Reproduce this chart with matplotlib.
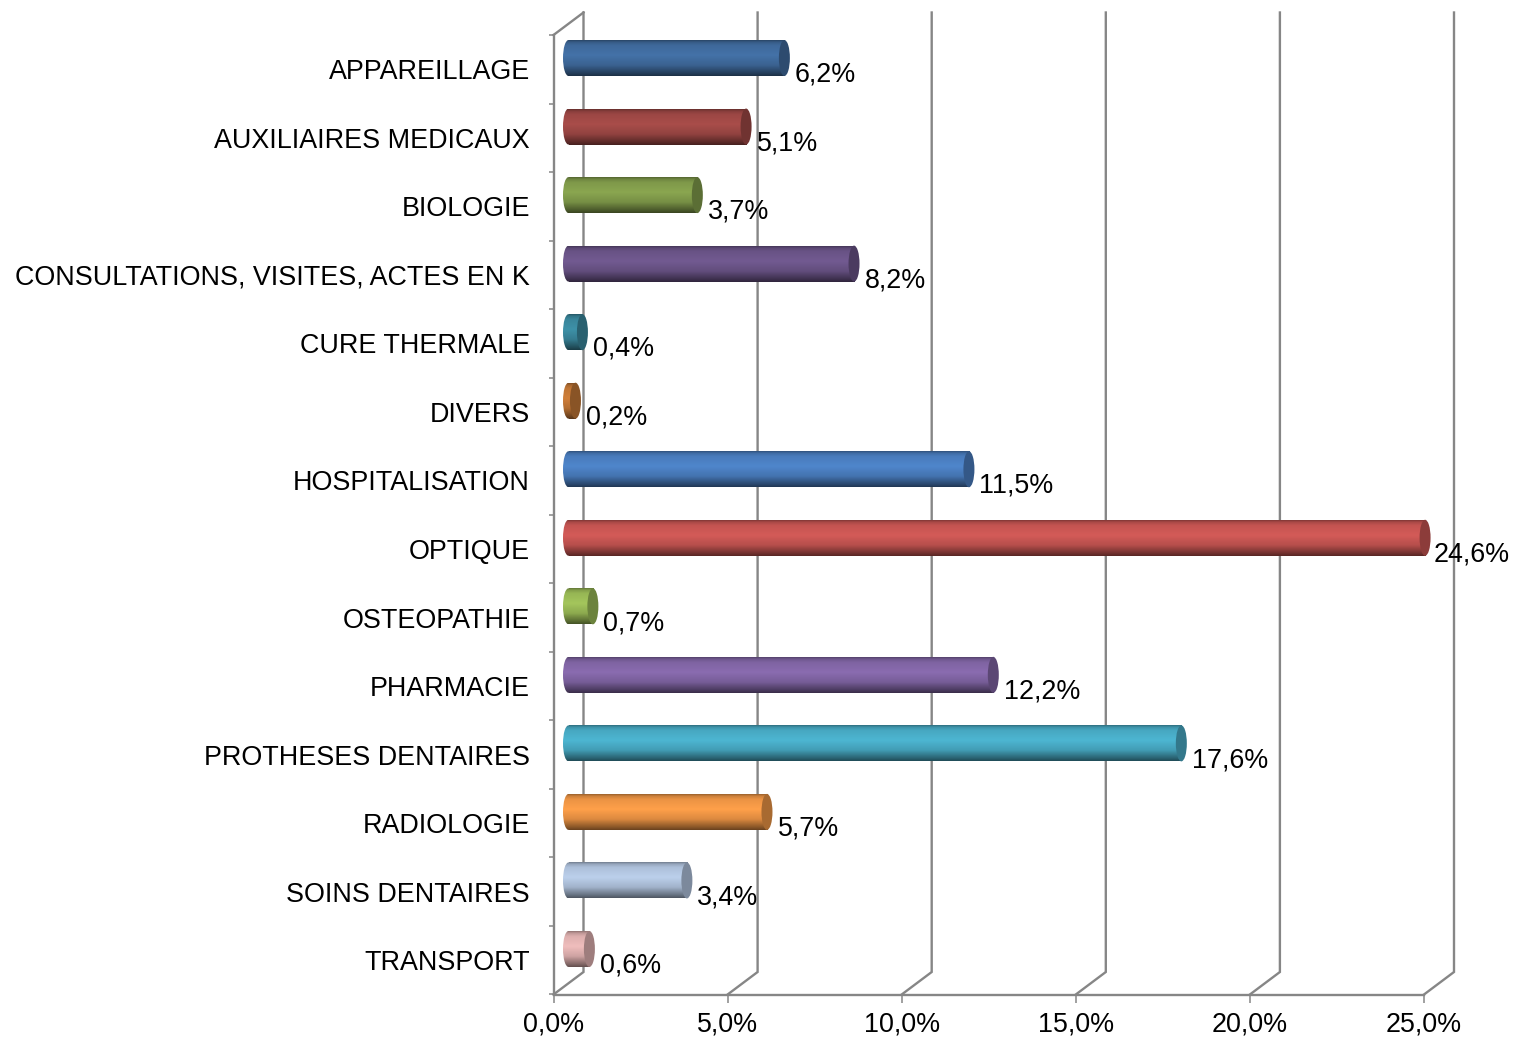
import numpy as np
import matplotlib
matplotlib.use("Agg")
import matplotlib.pyplot as plt
from matplotlib.colors import LinearSegmentedColormap, to_rgb
from matplotlib.patches import Ellipse

categories = ["APPAREILLAGE", "AUXILIAIRES MEDICAUX", "BIOLOGIE",
              "CONSULTATIONS, VISITES, ACTES EN K", "CURE THERMALE", "DIVERS",
              "HOSPITALISATION", "OPTIQUE", "OSTEOPATHIE", "PHARMACIE",
              "PROTHESES DENTAIRES", "RADIOLOGIE", "SOINS DENTAIRES", "TRANSPORT"]
values = [6.2, 5.1, 3.7, 8.2, 0.4, 0.2, 11.5, 24.6, 0.7, 12.2, 17.6, 5.7, 3.4, 0.6]
colors = ["#4472A8", "#A94D4A", "#8AA650", "#725A91", "#3E91A8", "#D07F3A",
          "#4F86CC", "#D45B58", "#A4C65C", "#8A6CB0", "#4DB6D2", "#FFA04A",
          "#BCD0EC", "#F0BEBD"]
xticks = [0, 5, 10, 15, 20, 25]

W, H = 1514, 1038
L, R, T, B = 553.5, 1424.0, 35.0, 994.5
DEPTH_X, DEPTH_Y = 30.0, 22.5
BAR_H, CAP_W = 36.0, 11.0
AXC = "#868686"

plt.rcParams["font.family"] = ["Liberation Sans", "DejaVu Sans"]
fig = plt.figure(figsize=(W / 100, H / 100), dpi=100, facecolor="white")
ax = fig.add_axes([L / W, 1 - B / H, (R - L) / W, (B - T) / H])
n = len(categories)
ax.set_xlim(0, 25)
ax.set_ylim(n, 0)
ux = (R - L) / 25
uy = (B - T) / n
dx, dy = DEPTH_X / ux, DEPTH_Y / uy

for s in ("top", "right"):
    ax.spines[s].set_visible(False)
for s in ("left", "bottom"):
    ax.spines[s].set_color(AXC)
    ax.spines[s].set_linewidth(1.7)

ax.set_yticks(np.arange(n + 1))
ax.set_yticklabels([])
ax.set_yticks(np.arange(n) + 0.5, minor=True)
ax.set_yticklabels(categories, minor=True, fontsize=FS if False else 19.4, color="black")
ax.tick_params(axis="y", which="major", length=3.8, width=1.1, color=AXC)
ax.tick_params(axis="y", which="minor", length=0, pad=17)
ax.set_xticks(xticks)
ax.set_xticklabels([f"{v:.1f}%".replace(".", ",") for v in xticks], fontsize=19.4)
ax.tick_params(axis="x", length=5.4, width=1.1, color=AXC, pad=7)

# walls
for v in xticks:
    ax.plot([v, v + dx, v + dx], [n, n - dy, -dy], color=AXC, lw=1.7,
            clip_on=False, zorder=1, solid_joinstyle="miter")
ax.plot([0, dx], [0, -dy], color=AXC, lw=1.7, clip_on=False, zorder=1)

stops = [0.0, 0.05, 0.14, 0.42, 0.7, 0.92, 1.0]
shade = [0.62, 0.80, 0.92, 1.0, 0.86, 0.55, 0.42]
grad = np.linspace(0, 1, 64)[:, None]
for i, (v, c) in enumerate(zip(values, colors)):
    rgb = np.array(to_rgb(c))
    cmap = LinearSegmentedColormap.from_list(
        f"bar{i}", [(s, tuple(np.clip(rgb * k, 0, 1))) for s, k in zip(stops, shade)])
    yc = i + 0.5 - dy / 2
    h = BAR_H / uy
    w = CAP_W / ux
    x0 = dx / 2
    x1 = v + dx / 2
    ell = Ellipse((x0, yc), w, h, transform=ax.transData, fc="none", ec="none")
    ax.add_patch(ell)
    im = ax.imshow(grad, extent=[x0 - w / 2, x0 + w / 2, yc + h / 2, yc - h / 2],
                   cmap=cmap, vmin=0, vmax=1, aspect="auto", zorder=3, clip_on=True)
    im.set_clip_path(ell)
    ax.imshow(grad, extent=[x0, x1, yc + h / 2, yc - h / 2], cmap=cmap, vmin=0, vmax=1,
              aspect="auto", zorder=3, clip_on=False)
    capc = rgb * 0.66
    ax.add_patch(Ellipse((x1, yc), w, h, fc=capc, ec="none", zorder=4, clip_on=False))
    shift = 3.5 if v > 24 else 5
    ax.annotate(f"{v:.1f}%".replace(".", ","), xy=(x1 + w / 2, i + 0.5),
                xytext=(shift * 0.72, -5.5 * 0.72), textcoords="offset points",
                ha="left", va="center", fontsize=19.4, color="black", zorder=6,
                annotation_clip=False)
ax.set_xlim(0, 25)
ax.set_ylim(n, 0)
fig.savefig("out.png", dpi=100)
